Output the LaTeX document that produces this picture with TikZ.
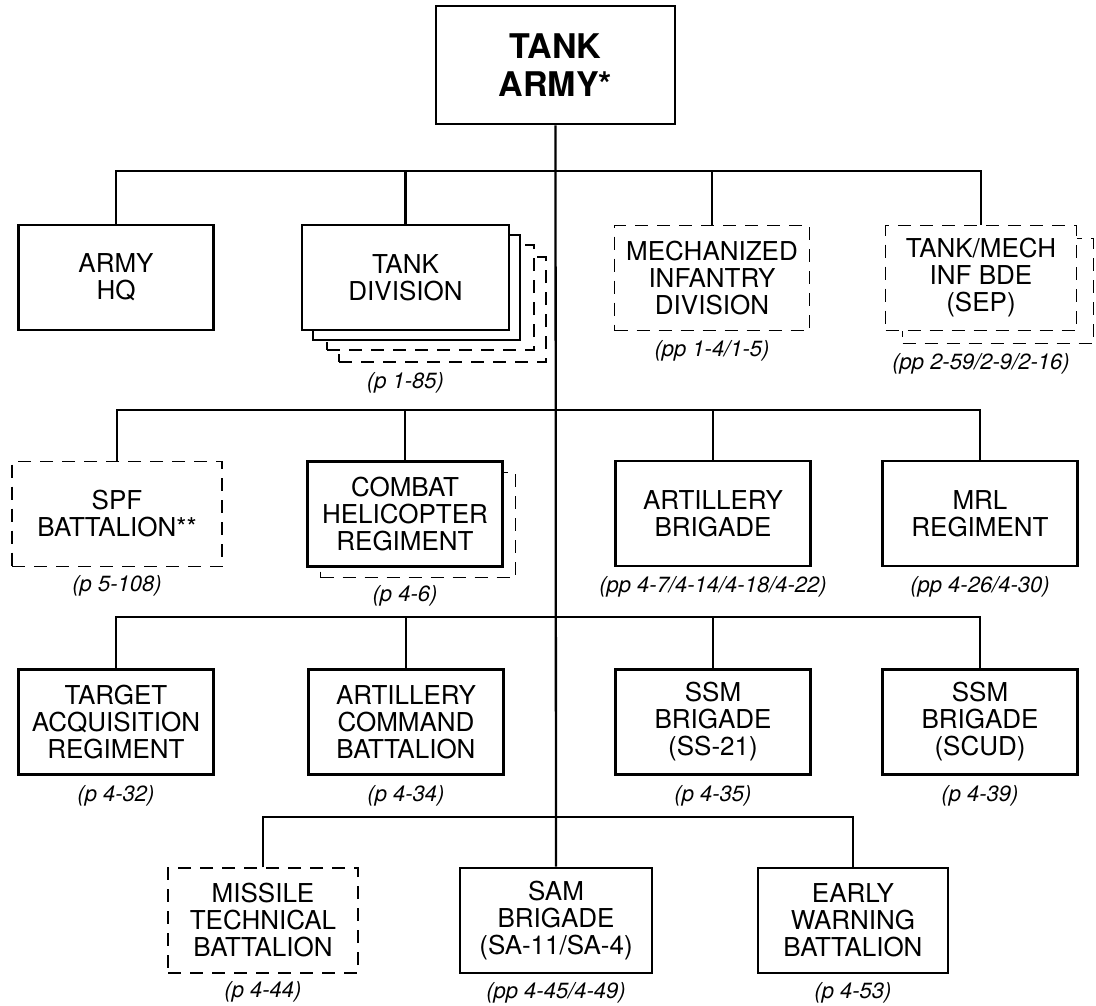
\documentclass[tikz,border=0pt]{standalone}
\usepackage{fontspec}
\setmainfont{TeX Gyre Heros}
\usetikzlibrary{positioning}

\begin{document}
\begin{tikzpicture}[
  x=1pt, y=-1pt,
  unit/.style={draw, line width=2.8pt, fill=white, minimum width=195pt, minimum height=105pt,
    inner sep=0pt, align=center, font=\fontsize{26}{27}\selectfont},
  dashunit/.style={unit, line width=1.4pt, dash pattern=on 13pt off 9pt},
  pages/.style={inner sep=0pt, font=\fontsize{22}{24}\selectfont\itshape},
  link/.style={line width=2.3pt}
]
  \useasboundingbox (0,0) rectangle (1096,1005);

  % top
  \node[unit, minimum width=239pt, minimum height=118pt, font=\fontsize{34}{38}\selectfont\bfseries]
    (army) at (555.5,65) {TANK\\ARMY*};

  % row 1 (stacked boxes drawn back to front)
  \node[unit] (hq) at (116,277.5) {ARMY\\HQ};
  \node[dashunit, minimum width=207pt] (tdivD) at (442.5,309.5) {};
  \node[dashunit, minimum width=207pt] (tdivC) at (430.5,297.5) {};
  \node[unit, minimum width=207pt] (tdivB) at (416.5,287.5) {};
  \node[unit, minimum width=207pt] (tdiv) at (405.5,277.5) {TANK\\DIVISION};
  \node[dashunit] (mech) at (712,278) {MECHANIZED\\INFANTRY\\DIVISION};
  \node[dashunit, minimum width=191pt] (sepB) at (998,291) {};
  \node[dashunit, minimum width=191pt] (sep) at (981,278) {TANK/MECH\\INF BDE\\(SEP)};

  % row 2
  \node[dashunit, minimum width=210pt] (spf) at (117,514) {SPF\\BATTALION**};
  \node[dashunit] (helB) at (418,525) {};
  \node[unit] (hel) at (405,514) {COMBAT\\HELICOPTER\\REGIMENT};
  \node[unit] (arty) at (713,513.5) {ARTILLERY\\BRIGADE};
  \node[unit] (mrl) at (980,513.5) {MRL\\REGIMENT};

  % row 3
  \node[unit] (tgt) at (116,722) {TARGET\\ACQUISITION\\REGIMENT};
  \node[unit] (acmd) at (406,722) {ARTILLERY\\COMMAND\\BATTALION};
  \node[unit] (ss21) at (713,722) {SSM\\BRIGADE\\(SS-21)};
  \node[unit] (scud) at (980,722) {SSM\\BRIGADE\\(SCUD)};

  % row 4
  \node[dashunit, minimum width=190pt] (mtb) at (263,920.5) {MISSILE\\TECHNICAL\\BATTALION};
  \node[unit, minimum width=192pt] (sam) at (556,920.5) {SAM\\BRIGADE\\(SA-11/SA-4)};
  \node[unit, minimum width=190pt] (ew) at (853,920.5) {EARLY\\WARNING\\BATTALION};

  % page references
  \node[pages, anchor=north] at ([yshift=-10pt]tdiv.south |- tdivD.south) {(p 1-85)};
  \node[pages, below=9pt of mech] {(pp 1-4/1-5)};
  \node[pages, anchor=north] at ([yshift=-9pt]sep.south |- sepB.south) {(pp 2-59/2-9/2-16)};
  \node[pages, below=8pt of spf] {(p 5-108)};
  \node[pages, anchor=north] at ([yshift=-7pt]hel.south |- helB.south) {(p 4-6)};
  \node[pages, below=9pt of arty] {(pp 4-7/4-14/4-18/4-22)};
  \node[pages, below=9pt of mrl] {(pp 4-26/4-30)};
  \node[pages, below=9pt of tgt] {(p 4-32)};
  \node[pages, below=9pt of acmd] {(p 4-34)};
  \node[pages, below=9pt of ss21] {(p 4-35)};
  \node[pages, below=9pt of scud] {(p 4-39)};
  \node[pages, below=8pt of mtb] {(p 4-44)};
  \node[pages, below=8pt of sam] {(pp 4-45/4-49)};
  \node[pages, below=8pt of ew] {(p 4-53)};

  % bars
  \coordinate (bar1) at (556,171);
  \coordinate (bar2) at (556,410);
  \coordinate (bar3) at (556,617);
  \coordinate (bar4) at (556,817);

  \draw[link] (army.south) -- (sam.north);
  \draw[link] (hq.north) |- (bar1) -| (sep.north);
  \draw[link] (tdiv.north) -- (tdiv.north |- bar1);
  \draw[link] (mech.north) -- (mech.north |- bar1);
  \draw[link] (spf.north) |- (bar2) -| (mrl.north);
  \draw[link] (hel.north) -- (hel.north |- bar2);
  \draw[link] (arty.north) -- (arty.north |- bar2);
  \draw[link] (tgt.north) |- (bar3) -| (scud.north);
  \draw[link] (acmd.north) -- (acmd.north |- bar3);
  \draw[link] (ss21.north) -- (ss21.north |- bar3);
  \draw[link] (mtb.north) |- (bar4) -| (ew.north);
\end{tikzpicture}
\end{document}
